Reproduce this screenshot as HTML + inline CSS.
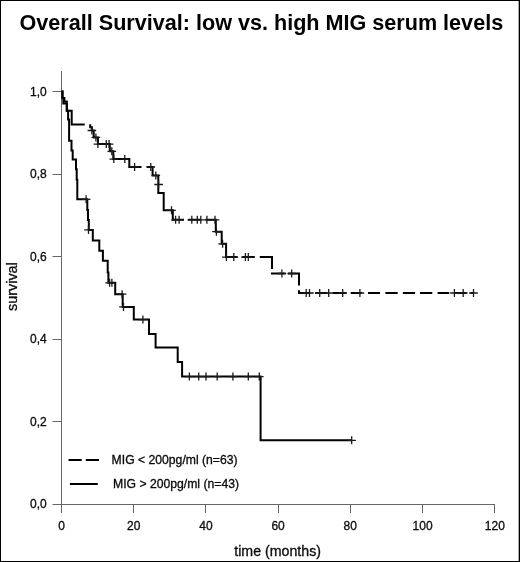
<!DOCTYPE html>
<html><head><meta charset="utf-8">
<style>
html,body{margin:0;padding:0;background:#fff;}
body{width:520px;height:562px;overflow:hidden;position:relative;}
#frame{position:absolute;left:0;top:0;width:520px;height:562px;box-sizing:border-box;border:1px solid #000;}
svg{position:absolute;left:0;top:0;will-change:transform;filter:blur(0.3px);}
text{font-family:"Liberation Sans",sans-serif;}
.lb{stroke:#000;stroke-width:0.3px;}
</style></head>
<body>
<div id="frame"></div>
<div style="position:absolute;left:518px;top:1px;width:1px;height:560px;background:#aaa"></div>
<svg width="520" height="562" viewBox="0 0 520 562">
<!-- title -->
<text x="19.5" y="30" font-size="21.6" font-weight="bold" fill="#000">Overall Survival: low vs. high MIG serum levels</text>

<!-- axes -->
<g stroke="#666" stroke-width="1" fill="none">
<path d="M61.5,71 V513"/>
<path d="M52.5,504.5 H495"/>
<path d="M52.5,91.5 H61.5 M52.5,174.5 H61.5 M52.5,256.5 H61.5 M52.5,339.5 H61.5 M52.5,421.5 H61.5"/>
<path d="M133.5,504.5 V513 M205.5,504.5 V513 M278.5,504.5 V513 M350.5,504.5 V513 M422.5,504.5 V513 M494.5,504.5 V513"/>
</g>

<!-- y labels -->
<g font-size="12" fill="#111" text-anchor="end" class="lb">
<text x="46.8" y="95.5">1,0</text>
<text x="46.8" y="178">0,8</text>
<text x="46.8" y="260.5">0,6</text>
<text x="46.8" y="343">0,4</text>
<text x="46.8" y="425.5">0,2</text>
<text x="46.8" y="508">0,0</text>
</g>
<!-- x labels -->
<g font-size="12" fill="#111" text-anchor="middle" class="lb">
<text x="61.5" y="529.5">0</text>
<text x="133.7" y="529.5">20</text>
<text x="205.9" y="529.5">40</text>
<text x="278.1" y="529.5">60</text>
<text x="350.3" y="529.5">80</text>
<text x="422.6" y="529.5">100</text>
<text x="494.8" y="529.5">120</text>
</g>
<text font-size="14.4" fill="#111" class="lb" text-anchor="middle" transform="translate(16.5,286.6) rotate(-90)">survival</text>
<text x="277.6" y="555.5" font-size="14.2" fill="#111" class="lb" text-anchor="middle">time (months)</text>

<!-- legend -->
<path d="M68.5,460 H81.7 M85.8,460 H99 M69.9,484 H97.8" stroke="#000" stroke-width="2" fill="none"/>
<text x="111.6" y="464.4" font-size="12.2" fill="#111" class="lb">MIG &lt; 200pg/ml (n=63)</text>
<text x="113" y="487.8" font-size="12.2" fill="#111" class="lb">MIG &gt; 200pg/ml (n=43)</text>

<!-- lower curve (solid) -->
<path stroke="#000" stroke-width="2" fill="none" stroke-linejoin="miter" d="M61.5,91.5 H62.5 V98 H63.3 V103.6 H66.8 V110.8 H68.1 V119.5 H69.1 V140.8 H71.5 V150.4 H72.7 V159.6 H76 V169.2 H76.7 V179.8 H77.3 V199.3 H87.3 V210 H88 V220 H88.8 V229.9 H92.8 V240.5 H99.3 V250.8 H102.9 V260.8 H107.7 V272.4 H108.4 V282.8 H115.2 V294.2 H122.7 V306.9 H133.8 V319.6 H149 V334 H155.6 V347.6 H177.7 V362.1 H182.1 V376.6 H260.6 V440.3 H351.7"/>

<!-- upper curve (dashed) -->
<path stroke="#000" stroke-width="2" fill="none" d="M61.5,91.5 H62.5 V98 H64.4 V101.5 H66.8 V110.8 H71.7 V124.4 H84.7
M90.2,124.3 V127.3 H91.8 V130.5 H93.7 V137.4 H97.9 V144.1 H109.8 V151.3 H113.3 V159.1 H129.3 V167 H141.5
M146.7,167 H152.6 V175.4 H158.3 V193.1 H163.7 V210.3 H172.8 V219.8 H184
M188.1,219.8 H201 M205.5,219.8 H215.8 V231.7 H221.7 V243.8 H226.1 V257.1 H237.5
M242.2,257.1 H254.8
M259.8,257.1 H272 V269
M272,272.6 V273.5 H285.4
M288.1,273.5 H299 V285.5
M299,290.2 V293 H310.3 M315.2,293 H327.6 M332.8,293 H345.8
M350.7,293 H361.9 M368,293 H380 M385.4,293 H397.7 M402.8,293 H415.1 M420,293 H432.3 M437.6,293 H449.2 M454.6,293 H466.5 M470.5,293 H473.5"/>

<!-- censor marks -->
<g stroke="#1a1a1a" stroke-width="1.3" fill="none" id="cens">
<path d="M87.6,130.5h8.6M91.9,126.5v8.0M91.6,137.4h8.6M95.9,133.4v8.0M93.6,144.1h8.6M97.9,140.1v8.0M102.0,144.1h8.6M106.3,140.1v8.0M104.8,144.1h8.6M109.1,140.1v8.0M107.5,151.3h8.6M111.8,147.3v8.0M109.5,159.1h8.6M113.8,155.1v8.0M120.5,159.1h8.6M124.8,155.1v8.0M130.3,167.0h8.6M134.6,163.0v8.0M146.5,167.0h8.6M150.8,163.0v8.0M151.5,175.4h8.6M155.8,171.4v8.0M154.3,184.5h8.6M158.6,180.5v8.0M167.2,210.3h8.6M171.5,206.3v8.0M171.3,219.8h8.6M175.6,215.8v8.0M174.8,219.8h8.6M179.1,215.8v8.0M187.5,219.8h8.6M191.8,215.8v8.0M193.0,219.8h8.6M197.3,215.8v8.0M196.5,219.8h8.6M200.8,215.8v8.0M202.6,219.8h8.6M206.9,215.8v8.0M210.7,219.8h8.6M215.0,215.8v8.0M212.1,231.7h8.6M216.4,227.7v8.0M218.3,243.8h8.6M222.6,239.8v8.0M222.1,257.1h8.6M226.4,253.1v8.0M229.5,257.1h8.6M233.8,253.1v8.0M241.1,257.1h8.6M245.4,253.1v8.0M244.0,257.1h8.6M248.3,253.1v8.0M277.6,273.5h8.6M281.9,269.5v8.0M287.4,273.5h8.6M291.7,269.5v8.0M301.9,293.0h8.6M306.2,289.0v8.0M305.2,293.0h8.6M309.5,289.0v8.0M315.4,293.0h8.6M319.7,289.0v8.0M324.4,293.0h8.6M328.7,289.0v8.0M338.4,293.0h8.6M342.7,289.0v8.0M355.6,293.0h8.6M359.9,289.0v8.0M450.1,293.0h8.6M454.4,289.0v8.0M458.9,293.0h8.6M463.2,289.0v8.0M469.2,293.0h8.6M473.5,289.0v8.0M81.8,199.3h8.6M86.1,195.3v8.0M84.2,229.9h8.6M88.5,225.9v8.0M105.3,282.8h8.6M109.6,278.8v8.0M107.6,282.8h8.6M111.9,278.8v8.0M117.8,294.2h8.6M122.1,290.2v8.0M119.2,306.9h8.6M123.5,302.9v8.0M138.6,319.6h8.6M142.9,315.6v8.0M185.1,376.6h8.6M189.4,372.6v8.0M194.4,376.6h8.6M198.7,372.6v8.0M201.7,376.6h8.6M206.0,372.6v8.0M212.9,376.6h8.6M217.2,372.6v8.0M228.6,376.6h8.6M232.9,372.6v8.0M244.0,376.6h8.6M248.3,372.6v8.0M255.0,376.6h8.6M259.3,372.6v8.0M347.4,440.3h8.6M351.7,436.3v8.0"/>
</g>
</svg>
</body></html>
